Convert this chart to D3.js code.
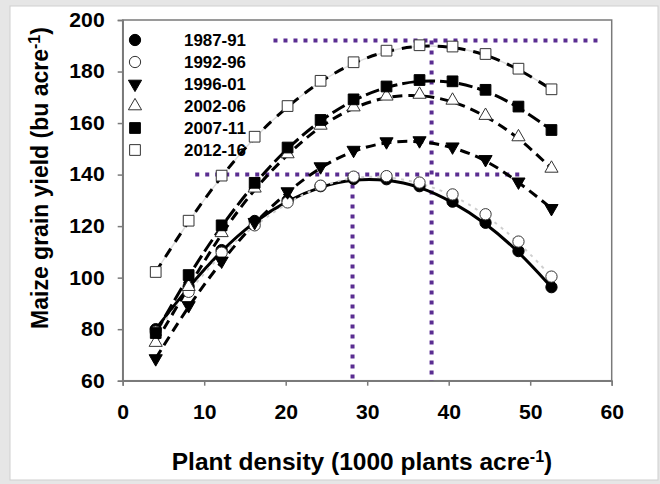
<!DOCTYPE html>
<html><head><meta charset="utf-8">
<script src="https://cdn.jsdelivr.net/npm/d3@7"></script>
<style>
html,body{margin:0;padding:0;background:#fff;}
svg text{font-family:"Liberation Sans",Arial,sans-serif;font-weight:bold;fill:#000;}
</style></head>
<body>
<svg id="chart" width="660" height="484"></svg>
<script>
// ---- data ----
const densities = [4.05, 8.09, 12.14, 16.19, 20.23, 24.28, 28.33, 32.37, 36.42, 40.47, 44.52, 48.56, 52.61];
const seriesNames = ["1987-91", "1992-96", "1996-01", "2002-06", "2007-11", "2012-16"];
const y1987 = [80, 96.5, 110.7, 122, 130, 135.5, 138.3, 138.2, 135.5, 129.5, 121.3, 110.3, 96.3];
const y1992 = [79, 94.5, 109.7, 120.3, 129.2, 135.7, 139.2, 139.4, 136.9, 132.3, 124.6, 114, 100.4];
const y1996 = [68.6, 89.2, 106.5, 121.5, 133.4, 143.1, 149.5, 152.8, 153.2, 150.8, 145.9, 137.2, 126.9];
const y2002 = [74.8, 96.5, 117.4, 134.7, 148, 159.1, 166.2, 170.4, 171.1, 168.8, 162.9, 154.6, 142.4];
const y2007 = [78.5, 101, 120.3, 136.8, 150.5, 161.2, 169.2, 174.2, 176.7, 176.2, 172.9, 166.4, 157.3];
const y2012 = [102.2, 122.1, 139.6, 154.7, 166.6, 176.4, 183.6, 188.1, 190.2, 189.7, 186.8, 181.1, 173.1];
const xTicks = [0, 10, 20, 30, 40, 50, 60];
const yTicks = [60, 80, 100, 120, 140, 160, 180, 200];
// optimum guide lines (dotted): [x1, y1, x2, y2] in data units
const guideH = [[8.9, 140, 48.8, 140], [18.5, 192, 58.4, 192]];
const guideV = [[28.2, 140, 28.2, 60], [37.9, 192, 37.9, 60]];

const seriesValues = [y1987, y1992, y1996, y2002, y2007, y2012];

// ---- styles ----
const styles = [
  {sym: d3.symbolCircle, fill: "#000", size: 100, stroke: "#000", dash: null, lw: 3},
  {sym: d3.symbolCircle, fill: "#fff", size: 100, stroke: "#cfcfcf", dash: "3,5", lw: 2},
  {sym: "tri-down", fill: "#000", size: 75, stroke: "#000", dash: "10,6", lw: 3},
  {sym: d3.symbolTriangle, fill: "#fff", size: 75, stroke: "#000", dash: "10,6", lw: 3},
  {sym: d3.symbolSquare, fill: "#000", size: 115, stroke: "#000", dash: "14,5", lw: 3},
  {sym: d3.symbolSquare, fill: "#fff", size: 115, stroke: "#000", dash: "10,8", lw: 3}
];

const svg = d3.select("#chart");
svg.append("rect").attr("x",0).attr("y",0).attr("width",660).attr("height",484).attr("fill","#e6e6e6");
svg.append("rect").attr("x",10).attr("y",6).attr("width",648).attr("height",474).attr("fill","#fff").attr("stroke","#cfcfcf");

const L = 122.7, R = 611.7, T = 20, B = 380.7;
const x = d3.scaleLinear().domain([0, 60]).range([L, R]);
const y = d3.scaleLinear().domain([60, 200]).range([B, T]);

svg.append("rect").attr("x",L).attr("y",T).attr("width",R-L).attr("height",B-T)
  .attr("fill","none").attr("stroke","#7a7a7a").attr("stroke-width",1.5);

const xAxis = svg.append("g").attr("transform",`translate(0,${B})`)
  .call(d3.axisBottom(x).tickValues(xTicks).tickSize(5).tickPadding(19).tickFormat(d3.format("d")));
const yAxis = svg.append("g").attr("transform",`translate(${L},0)`)
  .call(d3.axisLeft(y).tickValues(yTicks).tickSize(5).tickPadding(12).tickFormat(d3.format("d")));
[xAxis, yAxis].forEach(g => {
  g.select(".domain").attr("stroke","#7a7a7a").attr("stroke-width",1.5);
  g.selectAll(".tick line").attr("stroke","#7a7a7a").attr("stroke-width",1.5);
  g.selectAll(".tick text").attr("font-size",20).attr("font-weight","bold")
    .attr("font-family","'Liberation Sans',Arial,sans-serif").attr("fill","#000")
    .attr("transform","scale(1.06,1)");
});

const purple = "#5a2d91";
guideH.concat(guideV).forEach(g => {
  svg.append("line").attr("x1",x(g[0])).attr("y1",y(g[1])).attr("x2",x(g[2])).attr("y2",y(g[3]))
    .attr("stroke",purple).attr("stroke-width",4).attr("stroke-dasharray","4,6");
});

function symPath(s, size){
  if (s === "tri-down") return d3.symbol(d3.symbolTriangle, size)();
  return d3.symbol(s, size)();
}

const line = d3.line().x((d,i)=>x(densities[i])).y(d=>y(d)).curve(d3.curveBasis);
seriesValues.forEach((vals, si) => {
  const st = styles[si];
  if (si === 5) {
    svg.append("path").attr("d", line(vals)).attr("fill","none")
      .attr("stroke","#dcdcdc").attr("stroke-width",1.5);
  }
  svg.append("path").attr("d", line(vals)).attr("fill","none")
    .attr("stroke", st.stroke).attr("stroke-width", st.lw)
    .attr("stroke-dasharray", st.dash);
});

seriesValues.forEach((vals, si) => {
  const st = styles[si];
  svg.append("g").selectAll("path").data(vals).join("path")
    .attr("d", symPath(st.sym, st.size))
    .attr("transform", (d,i) => `translate(${x(densities[i])},${y(d)})` + (st.sym === "tri-down" ? " rotate(180)" : ""))
    .attr("fill", st.fill).attr("stroke", st.fill === "#fff" ? "#333" : "#000").attr("stroke-width", 1);
});

const lg = svg.append("g");
seriesNames.forEach((name, i) => {
  const st = styles[i];
  const yy = 40 + i * 22;
  lg.append("path").attr("d", symPath(st.sym, st.size))
    .attr("transform", `translate(135,${yy})` + (st.sym === "tri-down" ? " rotate(180)" : ""))
    .attr("fill", st.fill).attr("stroke", st.fill === "#fff" ? "#333" : "#000").attr("stroke-width", 1);
  lg.append("text").attr("x",184).attr("y",yy).attr("dy","0.35em").attr("font-size",16.5)
    .attr("textLength",62).attr("lengthAdjust","spacingAndGlyphs").text(name);
});

const xt = svg.append("text").attr("x",362).attr("y",470).attr("text-anchor","middle").attr("font-size",24.5);
xt.append("tspan").text("Plant density (1000 plants acre");
xt.append("tspan").attr("dy","-0.5em").attr("font-size",16).text("-1");
xt.append("tspan").attr("dy","0.33em").text(")");

const yt = svg.append("text").attr("transform","translate(48,178) rotate(-90)").attr("text-anchor","middle").attr("font-size",23);
yt.append("tspan").text("Maize grain yield (bu acre");
yt.append("tspan").attr("dy","-0.5em").attr("font-size",16).text("-1");
yt.append("tspan").attr("dy","0.33em").text(")");
</script>
</body></html>
